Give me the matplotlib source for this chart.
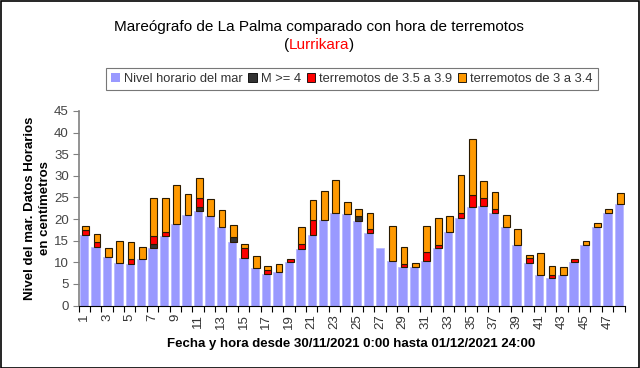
import matplotlib.pyplot as plt
import numpy as np
from matplotlib.patches import Patch

plt.rcParams['font.family'] = ['Liberation Sans', 'DejaVu Sans']

# Hourly data, 30/11/2021 0:00 to 01/12/2021 24:00
horas = list(range(1, 49))
nivel_mar = [16.3, 13.6, 11.3, 9.8, 9.6, 10.7, 13.2, 16.1, 18.8, 21.0,
             21.8, 20.8, 18.2, 14.8, 11.1, 8.6, 7.2, 7.8, 10.0, 13.1,
             16.4, 19.8, 21.4, 21.2, 19.5, 16.7, 13.2, 10.4, 8.8, 8.8,
             10.4, 13.4, 17.0, 20.3, 22.8, 23.1, 21.4, 18.2, 13.9, 9.8,
             7.1, 6.3, 7.1, 10.1, 14.0, 18.1, 21.4, 23.4]
m_mayor_4 = [0, 0, 0, 0, 0, 0, 1.0, 0, 0, 0,
             0.9, 0, 0, 1.1, 0, 0, 0, 0, 0, 0,
             0, 0, 0, 0, 1.1, 0, 0, 0, 0, 0,
             0, 0, 0, 0, 0, 0, 0, 0, 0, 0,
             0, 0, 0, 0, 0, 0, 0, 0]
m_35_39 = [1.1, 1.0, 0, 0, 1.1, 0, 1.9, 1.0, 0, 0,
           2.1, 0, 0, 0, 2.1, 0, 1.1, 0, 0.8, 1.1,
           3.3, 0, 0, 0, 0, 0.9, 0, 0, 0.9, 0,
           2.0, 0.7, 0, 1.1, 2.8, 1.7, 1.0, 0, 0, 1.2,
           0, 0.8, 0, 0.7, 0, 0, 0, 0]
m_30_34 = [0.9, 2.0, 2.1, 5.1, 3.9, 2.9, 8.8, 7.8, 9.1, 4.9,
           4.8, 3.9, 3.8, 2.8, 1.0, 2.8, 0.8, 1.7, 0, 3.9,
           4.8, 6.8, 7.7, 2.8, 1.8, 3.8, 0, 7.9, 3.9, 1.0,
           5.9, 6.1, 3.8, 8.8, 13.0, 4.0, 3.9, 2.8, 3.9, 0.8,
           5.0, 2.0, 1.9, 0, 1.0, 1.1, 1.0, 2.7]

c_azul = '#9999FF'
c_negro = '#333333'
c_rojo = '#FF0000'
c_naranja = '#FF9900'

fig = plt.figure(figsize=(6.4, 3.68), dpi=100)
ax = fig.add_axes([0.1227, 0.1698, 0.8531, 0.5286])

x = np.array(horas)
base = np.array(nivel_mar)
ax.bar(x, base, width=0.74, color=c_azul, edgecolor='#B8B8FF', linewidth=0.6, zorder=2)

# stacked earthquake segments, sitting on top of the sea level
xs = x + 0.12
for vals, col in [(m_mayor_4, c_negro), (m_35_39, c_rojo), (m_30_34, c_naranja)]:
    vals = np.array(vals)
    mask = vals > 0
    ax.bar(xs[mask], vals[mask], bottom=base[mask], width=0.6, color=col,
           edgecolor='#2a1a00', linewidth=0.8, zorder=3)
    base = base + vals

ax.set_xlim(0.5, 48.5)
ax.set_ylim(0, 45)
ax.set_yticks(range(0, 46, 5))
ax.set_xticks(range(1, 49, 2))
ax.set_xticklabels([str(h) for h in range(1, 49, 2)], rotation=90)
ax.set_xticks(np.arange(0.5, 49, 1), minor=True)
ax.tick_params(axis='x', which='major', length=0, pad=6, labelsize=9.5, colors='#333333')
ax.tick_params(axis='x', which='minor', length=4, color='black', width=0.8)
ax.tick_params(axis='y', length=4, color='#808080', labelsize=9.5, labelcolor='#444444', pad=3)
for s in ['top', 'right']:
    ax.spines[s].set_visible(False)
ax.spines['left'].set_color('#808080')
ax.spines['left'].set_linewidth(1.2)
ax.spines['bottom'].set_color('black')
ax.spines['bottom'].set_linewidth(0.8)

ax.set_xlabel('Fecha y hora desde 30/11/2021 0:00 hasta 01/12/2021 24:00',
              fontsize=9.5, fontweight='bold', labelpad=7)
ax.set_ylabel('Nivel del mar. Datos Horarios\nen centímetros',
              fontsize=9.5, fontweight='bold', labelpad=2, linespacing=1.3)

# title, with the author's name in red
fig.text(0.499, 1 - 27 / 368, 'Mareógrafo de La Palma comparado con hora de terremotos',
         ha='center', va='center', fontsize=11)
renderer = fig.canvas.get_renderer()
y2 = 1 - 45 / 368
t1 = fig.text(0, y2, '(', fontsize=11, va='center')
t2 = fig.text(0, y2, 'Lurrikara', fontsize=11, va='center', color='red')
t3 = fig.text(0, y2, ')', fontsize=11, va='center')
ws = [t.get_window_extent(renderer).width for t in (t1, t2, t3)]
x0 = 319 - sum(ws) / 2
for t, w in zip((t1, t2, t3), ws):
    t.set_x(x0 / 640)
    x0 += w

handles = [Patch(facecolor=c_azul, edgecolor='none'),
           Patch(facecolor=c_negro, edgecolor='black', linewidth=0.6),
           Patch(facecolor=c_rojo, edgecolor='black', linewidth=0.6),
           Patch(facecolor=c_naranja, edgecolor='black', linewidth=0.6)]
labels = ['Nivel horario del mar', 'M >= 4', 'terremotos de 3.5 a 3.9', 'terremotos de 3 a 3.4']
leg = fig.legend(handles, labels, loc='center', bbox_to_anchor=(352 / 640, 1 - 79 / 368),
                 ncol=4, fontsize=9.3, frameon=True, fancybox=False, borderpad=0.4,
                 handlelength=0.65, handleheight=0.65, handletextpad=0.3, columnspacing=0.45,
                 labelcolor='#333333')
leg.get_frame().set_edgecolor('#555555')
leg.get_frame().set_linewidth(0.8)

# outer border of the picture
fig.patches.append(plt.Rectangle((0.001, 0.001), 0.997, 0.997, transform=fig.transFigure,
                                 fill=False, edgecolor='black', linewidth=1.2))

fig.savefig('out.png', dpi=100)
